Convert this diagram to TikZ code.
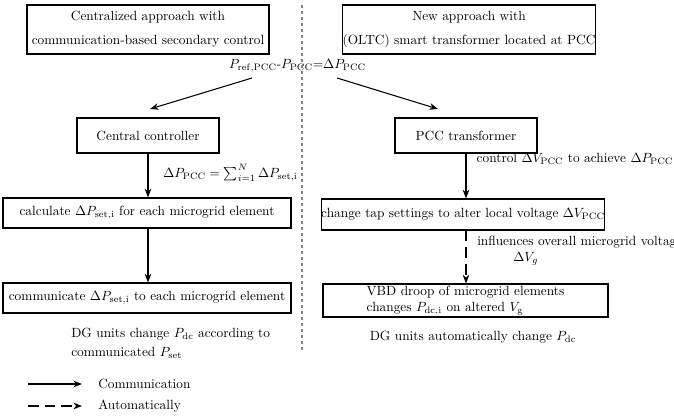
\documentclass[tikz,border=0pt]{standalone}
\usepackage{amsmath}
\usetikzlibrary{arrows.meta}

\begin{document}
\begin{tikzpicture}[x=0.75pt,y=-0.75pt]
\tikzstyle{every node}+=[inner sep=0pt]
\tikzstyle{block}=[draw=black, line width=0.9pt, align=center]
\tikzstyle{commline}=[black, line width=0.8pt, -{Stealth[length=6.5pt,width=5pt]}]
\tikzstyle{autoline}=[commline, dash pattern=on 8pt off 4.5pt]
\useasboundingbox (0,0) rectangle (674,420);
% separator
\draw [gray, line width=1.1pt, dash pattern=on 2pt off 2.5pt] (302,5) -- (302,352);
% left column
\node [block, minimum width=181.5pt, minimum height=36.75pt] (central) at (148,29.5) {Centralized approach with\\[6pt]communication-based secondary control};
\node (diff) at (297.5,66) {$P_{\mathrm{ref,PCC}}$-$P_{\mathrm{PCC}}$=$\Delta P_{\mathrm{PCC}}$};
\coordinate (diffl) at (252,78);
\coordinate (diffr) at (337,78);
\coordinate (ccin) at (150,109);
\coordinate (pccin) at (438,109);
\draw [commline] (diffl) -- (ccin);
\draw [commline] (diffr) -- (pccin);
\node [block, minimum width=106.5pt, minimum height=26.25pt] (cc) at (148,135.5) {Central controller};
\node [anchor=west] (sum) at (163,173) {$\Delta P_{\mathrm{PCC}} = \sum_{i=1}^{N} \Delta P_{\mathrm{set,i}}$};
\node [block, minimum width=216pt, minimum height=22.5pt] (calc) at (147,213) {calculate $\Delta P_{\mathrm{set,i}}$ for each microgrid element};
\node [block, minimum width=216pt, minimum height=22.5pt] (send) at (147,298) {communicate $\Delta P_{\mathrm{set,i}}$ to each microgrid element};
\node [anchor=west, align=left] (dgl) at (71,343) {DG units change $P_{\mathrm{dc}}$ according to\\[2pt]communicated $P_{\mathrm{set}}$};
\draw [commline] (cc) -- (cc |- calc.north);
\draw [commline] (cc |- calc.south) -- (cc |- send.north);
% right column
\node [block, minimum width=186pt, minimum height=36.75pt] (newapp) at (469,29.5) {New approach with\\[6pt](OLTC) smart transformer located at PCC};
\node [block, minimum width=106.5pt, minimum height=26.25pt] (pcc) at (466,135.5) {PCC transformer};
\node [anchor=east] (ctrl) at (673.5,159) {control $\Delta V_{\mathrm{PCC}}$ to achieve $\Delta P_{\mathrm{PCC}}$};
\node [block, minimum width=210pt, minimum height=23.25pt] (tap) at (463,214.5) {change tap settings to alter local voltage $\Delta V_{\mathrm{PCC}}$};
\node [anchor=west, align=left] (infl) at (477,251) {influences overall microgrid voltage\\\hspace*{27pt}$\Delta V_g$};
\node [block, minimum width=213.75pt, minimum height=24.75pt, align=left] (vbd) at (465.5,300.5) {VBD droop of microgrid elements\\changes $P_{\mathrm{dc,i}}$ on altered $V_{\mathrm{g}}$};
\node (dgr) at (473,337) {DG units automatically change $P_{\mathrm{dc}}$};
\draw [commline] (pcc.south -| 466,0) -- (tap.north -| 466,0);
\draw [autoline] (tap.south -| 466,0) -- (vbd.north -| 466,0);
% legend
\coordinate (la) at (28,384);
\coordinate (lb) at (82,384);
\coordinate (lc) at (28,406);
\coordinate (ld) at (82,406);
\draw [commline] (la) -- (lb);
\draw [autoline] (lc) -- (ld);
\node [anchor=west] (lcomm) at (98,384) {Communication};
\node [anchor=west] (lauto) at (98,406) {Automatically};
\end{tikzpicture}
\end{document}
